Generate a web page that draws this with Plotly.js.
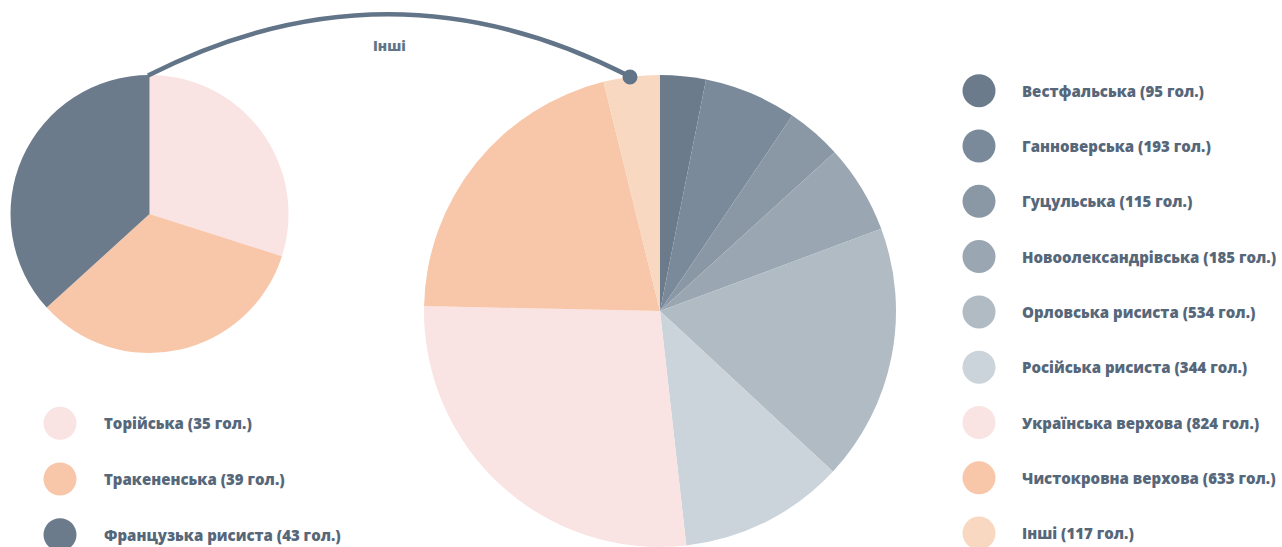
<!DOCTYPE html>
<html>
<head>
<meta charset="utf-8">
<script src="https://cdn.plot.ly/plotly-3.0.1.min.js"></script>
<style>html,body{margin:0;padding:0;background:#fff;}#chart{width:1282px;height:547px;}</style>
</head>
<body>
<div id="chart"></div>
<script>
// Main pie
const mainLabels = ["Вестфальська", "Ганноверська", "Гуцульська", "Новоолександрівська", "Орловська рисиста", "Російська рисиста", "Українська верхова", "Чистокровна верхова", "Інші"];
const mainValues = [95, 193, 115, 185, 534, 344, 824, 633, 117];
const mainColors = ["#6b7b8c", "#7a8a9a", "#8a98a6", "#9aa6b1", "#b0bbc3", "#cbd4da", "#f9e3e3", "#f8c6a8", "#f8d8c0"];
// Breakdown of "Інші"
const otherLabels = ["Торійська", "Тракененська", "Французька рисиста"];
const otherValues = [35, 39, 43];
const otherColors = ["#f9e3e3", "#f8c6a8", "#6b7b8c"];
const unit = "гол.";
const otherTitle = "Інші";

const W = 1282, H = 547;
const textColor = "#56677a";
const lineColor = "#627487";
const fontFam = "'Open Sans', 'Noto Sans', sans-serif";

// layout geometry (pixels)
const bigPie = {cx: 660, cy: 311, r: 236};
const smallPie = {cx: 149.5, cy: 214, r: 139};
function domainOf(p) {
  return {
    x: [(p.cx - p.r) / W, (p.cx + p.r) / W],
    y: [1 - (p.cy + p.r) / H, 1 - (p.cy - p.r) / H]
  };
}

const traces = [
  {
    type: "pie", labels: mainLabels, values: mainValues, sort: false,
    direction: "clockwise", rotation: 0, textinfo: "none",
    marker: {colors: mainColors, line: {width: 0}},
    domain: domainOf(bigPie), showlegend: false
  },
  {
    type: "pie", labels: otherLabels, values: otherValues, sort: false,
    direction: "clockwise", rotation: 0, textinfo: "none",
    marker: {colors: otherColors, line: {width: 0}},
    domain: domainOf(smallPie), showlegend: false
  }
];

// legend markers
const rightLeg = {x: 979, y0: 90.7, step: 55.3, tx: 1020};
const leftLeg = {x: 60, y0: 423.3, step: 55.7, tx: 102};
const annotations = [];
function addLegend(labels, values, colors, leg) {
  const xs = [], ys = [];
  labels.forEach((l, i) => {
    const y = leg.y0 + leg.step * i;
    xs.push(leg.x); ys.push(y);
    annotations.push({
      xref: "x", yref: "y", x: leg.tx, y: y, xanchor: "left", yanchor: "middle",
      text: l + " (" + values[i] + " " + unit + ")", showarrow: false,
      font: {family: fontFam, size: 15, weight: 800, color: textColor}
    });
  });
  traces.push({
    type: "scatter", mode: "markers", x: xs, y: ys, hoverinfo: "skip",
    marker: {size: 33, color: colors, line: {width: 0}}, showlegend: false
  });
}
addLegend(otherLabels, otherValues, otherColors, leftLeg);
addLegend(mainLabels, mainValues, mainColors, rightLeg);

annotations.push({
  xref: "x", yref: "y", x: 389, y: 45, text: otherTitle, showarrow: false,
  xanchor: "center", yanchor: "middle", font: {family: fontFam, size: 14, weight: 800, color: lineColor}
});

const shapes = [
  {type: "path", xref: "x", yref: "y", path: "M 148 75.6 Q 389 -47.6 630 76.6",
   line: {color: lineColor, width: 4.5}},
  {type: "circle", xref: "x", yref: "y", x0: 622.5, x1: 637.5, y0: 69.5, y1: 84.5,
   fillcolor: lineColor, line: {width: 0}}
];

const layout = {
  width: W, height: H, margin: {l: 0, r: 0, t: 0, b: 0},
  paper_bgcolor: "#fff", plot_bgcolor: "rgba(0,0,0,0)", showlegend: false,
  xaxis: {range: [0, W], visible: false, fixedrange: true},
  yaxis: {range: [H, 0], visible: false, fixedrange: true},
  annotations: annotations, shapes: shapes
};
Plotly.newPlot("chart", traces, layout, {displayModeBar: false, staticPlot: true});
</script>
</body>
</html>
